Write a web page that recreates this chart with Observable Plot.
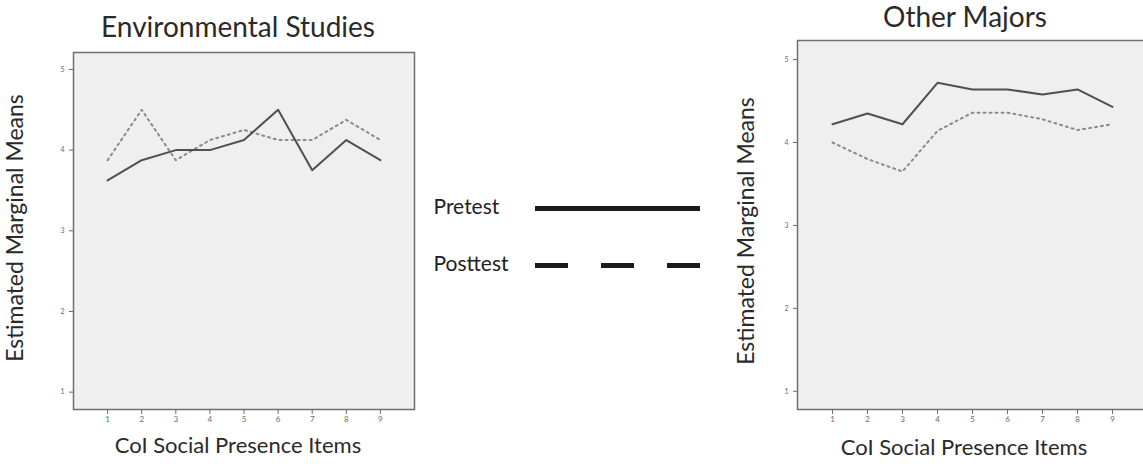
<!DOCTYPE html>
<html>
<head>
<meta charset="utf-8">
<script src="https://cdn.jsdelivr.net/npm/d3@7"></script>
<script src="https://cdn.jsdelivr.net/npm/@observablehq/plot@0.6"></script>
<style>
  html, body { margin: 0; padding: 0; background: #fff; }
  body { width: 1143px; height: 464px; position: relative; overflow: hidden; font-family: Lato, "Open Sans", sans-serif; color: #2a2a2a; }
  .abs { position: absolute; }
  .title { font-size: 28px; line-height: 1; white-space: nowrap; transform: translateX(-50%); }
  .xlab { font-size: 22px; line-height: 1; white-space: nowrap; transform: translateX(-50%); }
  .ylab { font-size: 23px; line-height: 1; white-space: nowrap; transform: translate(-50%, -50%) rotate(-90deg); }
</style>
</head>
<body>
<script>
// ---- data ----
const items = [1, 2, 3, 4, 5, 6, 7, 8, 9];
const envPre  = [3.625, 3.875, 4.0, 4.0, 4.125, 4.5, 3.75, 4.125, 3.875];
const envPost = [3.875, 4.5, 3.875, 4.125, 4.25, 4.125, 4.125, 4.375, 4.125];
const othPre  = [4.22, 4.35, 4.22, 4.72, 4.64, 4.64, 4.58, 4.64, 4.43];
const othPost = [4.0, 3.80, 3.65, 4.14, 4.36, 4.36, 4.28, 4.15, 4.22];
const yTicks = [1, 2, 3, 4, 5];
const series = ["Pretest", "Posttest"];
const panelTitles = ["Environmental Studies", "Other Majors"];
const xLabel = "CoI Social Presence Items";
const yLabel = "Estimated Marginal Means";

function rows(pre, post) {
  return items.flatMap((it, i) => [
    {item: it, value: pre[i], series: "Pretest"},
    {item: it, value: post[i], series: "Posttest"}
  ]);
}

function panel(data, opts) {
  return Plot.plot({
    width: opts.width, height: 464,
    marginLeft: opts.ml, marginRight: opts.mr, marginTop: opts.mt, marginBottom: 55,
    style: {background: "transparent", fontFamily: "Lato, sans-serif", color: "#6a6a6a"},
    x: {domain: [0, 10]},
    y: {domain: opts.ydom},
    marks: [
      Plot.frame({fill: "#efefef", stroke: null}),
      Plot.axisY({ticks: yTicks, tickSize: 4, tickFormat: "d", fontSize: 7, label: null}),
      Plot.axisX({ticks: items, tickSize: 5, tickPadding: 2, tickFormat: "d", fontSize: 8, label: null}),
      Plot.line(data.filter(d => d.series === "Posttest"), {x: "item", y: "value", stroke: "#8a8a8a", strokeWidth: 2, strokeDasharray: "2,4"}),
      Plot.line(data.filter(d => d.series === "Pretest"), {x: "item", y: "value", stroke: "#505050", strokeWidth: 2}),
      Plot.frame({stroke: "#6f6f6f", strokeWidth: 1.5})
    ]
  });
}

function place(el, left, top) {
  el.classList.add("abs");
  el.style.left = left + "px";
  el.style.top = top + "px";
  document.body.appendChild(el);
  return el;
}
function label(text, cls, left, top) {
  const d = document.createElement("div");
  d.className = cls;
  d.textContent = text;
  return place(d, left, top);
}

const left = panel(rows(envPre, envPost), {width: 430, ml: 73, mr: 16, mt: 52, ydom: [0.785, 5.21]});
place(left, 0, 0);
const right = panel(rows(othPre, othPost), {width: 430, ml: 77, mr: 3, mt: 40, ydom: [0.78, 5.23]});
place(right, 720, 0);

// legend
const legend = Plot.plot({
  width: 300, height: 100,
  marginLeft: 0, marginRight: 0, marginTop: 0, marginBottom: 0,
  style: {background: "transparent", fontFamily: "Lato, sans-serif"},
  x: {domain: [0, 1], range: [115, 280], axis: null},
  y: {type: "point", domain: series, range: [28, 85], padding: 0, axis: null},
  marks: [
    Plot.ruleY(series.slice(0, 1), {y: d => d, x1: 0, x2: 1, stroke: "#1a1a1a", strokeWidth: 5}),
    Plot.ruleY(series.slice(1), {y: d => d, x1: 0, x2: 1, stroke: "#1a1a1a", strokeWidth: 5, strokeDasharray: "33,33"}),
    Plot.text(series, {y: d => d, text: d => d, frameAnchor: "left", textAnchor: "start", dx: 13, dy: -1, fontSize: 21, fill: "#222"})
  ]
});
place(legend, 420, 180);

label(panelTitles[0], "title", 238, 12);
label(panelTitles[1], "title", 965, 2);
label(xLabel, "xlab", 238, 434);
label(xLabel, "xlab", 964, 436);
label(yLabel, "ylab", 14, 228);
label(yLabel, "ylab", 745, 231);
</script>
</body>
</html>
